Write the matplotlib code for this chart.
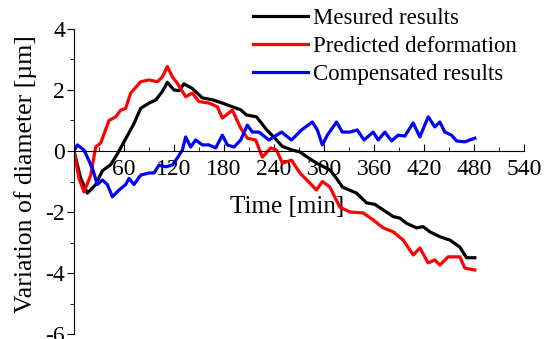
import matplotlib.pyplot as plt
from matplotlib.ticker import MultipleLocator

plt.rcParams['font.family'] = ['Liberation Serif', 'DejaVu Serif']
plt.rcParams['axes.unicode_minus'] = False

# Measured results
t_meas = [0, 8, 16, 26, 34, 44, 52, 60, 66, 72, 80, 90, 98, 106, 112, 120, 126, 132, 142,
          154, 166, 178, 190, 200, 207, 219, 231, 240, 250, 262, 271, 280, 291, 307, 315,
          322, 339, 351, 361, 371, 383, 391, 399, 411, 419, 427, 439, 451, 463, 471, 481]
v_meas = [0, -0.9, -1.38, -1.1, -0.65, -0.45, -0.1, 0.3, 0.6, 0.9, 1.4, 1.57, 1.67, 1.95, 2.25,
          2.0, 1.98, 2.2, 2.05, 1.74, 1.68, 1.57, 1.45, 1.35, 1.18, 1.12, 0.7, 0.45, 0.15, 0.03,
          -0.03, -0.2, -0.4, -0.62, -0.9, -1.18, -1.38, -1.7, -1.75, -1.93, -2.15, -2.2, -2.37,
          -2.52, -2.48, -2.65, -2.81, -2.92, -3.15, -3.5, -3.5]

# Predicted deformation
t_pred = [0, 6, 12, 20, 26, 32, 42, 50, 56, 62, 68, 80, 90, 100, 106, 112, 118, 124, 134, 142,
          150, 162, 172, 178, 190, 200, 208, 218, 226, 236, 243, 250, 261, 271, 283, 291, 298,
          307, 319, 331, 347, 359, 371, 383, 395, 407, 415, 425, 433, 439, 449, 463, 469, 481]
v_pred = [0, -0.9, -1.34, -0.8, 0.13, 0.26, 1.0, 1.12, 1.34, 1.4, 1.9, 2.27, 2.33, 2.27, 2.43,
          2.77, 2.43, 2.22, 1.78, 1.9, 1.62, 1.57, 1.45, 1.08, 1.34, 0.75, 0.42, 0.36, -0.2,
          0.1, 0.03, -0.4, -0.3, -0.72, -1.05, -1.28, -1.0, -1.18, -1.84, -2.0, -2.03, -2.26,
          -2.52, -2.65, -2.92, -3.41, -3.18, -3.67, -3.57, -3.74, -3.47, -3.47, -3.84, -3.9]

# Compensated results
t_comp = [0, 4, 12, 22, 28, 34, 40, 46, 54, 62, 66, 72, 80, 90, 96, 102, 110, 118, 124, 130,
          134, 140, 146, 154, 162, 170, 178, 184, 192, 200, 208, 214, 222, 234, 249, 261, 273,
          286, 292, 298, 304, 315, 322, 331, 340, 348, 359, 365, 373, 381, 389, 397, 407, 415,
          425, 433, 439, 445, 453, 459, 469, 481]
v_comp = [0, 0.2, 0.03, -0.56, -1.1, -0.95, -1.1, -1.5, -1.28, -1.1, -0.9, -1.1, -0.79, -0.72,
          -0.72, -0.46, -0.52, -0.46, -0.23, 0.03, 0.46, 0.13, 0.36, 0.2, 0.2, 0.1, 0.52, 0.2,
          0.13, 0.36, 0.85, 0.62, 0.62, 0.36, 0.62, 0.36, 0.69, 0.95, 0.69, 0.2, 0.52, 0.95,
          0.62, 0.62, 0.69, 0.36, 0.62, 0.36, 0.62, 0.33, 0.52, 0.49, 0.92, 0.46, 1.12, 0.79,
          0.95, 0.62, 0.52, 0.33, 0.3, 0.42]

fig = plt.figure(figsize=(5.45, 3.39), dpi=100)
ax = fig.add_axes([0.1358, 0.0147, 0.8257, 0.8998])

ax.plot(t_meas, v_meas, color='black', lw=2.3, label='Mesured results')
ax.plot(t_pred, v_pred, color='red', lw=2.3, label='Predicted deformation')
ax.plot(t_comp, v_comp, color='blue', lw=2.3, label='Compensated results')

ax.set_xlim(0, 540)
ax.set_ylim(-6, 4)
ax.spines['top'].set_visible(False)
ax.spines['right'].set_visible(False)
ax.spines['bottom'].set_position(('data', 0))

ax.set_xticks(range(60, 541, 60))
ax.xaxis.set_minor_locator(MultipleLocator(30))
ax.yaxis.set_major_locator(MultipleLocator(2))
ax.yaxis.set_minor_locator(MultipleLocator(1))
ax.tick_params(axis='x', which='both', direction='in', labelsize=17, pad=6)
ax.tick_params(axis='x', which='major', length=5)
ax.tick_params(axis='x', which='minor', length=3)
ax.tick_params(axis='y', which='both', direction='out', labelsize=17, pad=1.5)
ax.tick_params(axis='y', which='major', length=5)
ax.tick_params(axis='y', which='minor', length=3)

ax.set_xlabel('Time [min]', fontsize=18)
ax.xaxis.set_label_coords(0.473, 0.452)
ax.set_ylabel('Variation of diameter [µm]', fontsize=18.5)
ax.yaxis.set_label_coords(-0.082, 0.525)

ax.legend(loc='upper right', bbox_to_anchor=(1.0, 1.09), frameon=False, fontsize=16.5,
          handlelength=2.4, handletextpad=0.25, labelspacing=0.3, borderaxespad=0,
          borderpad=0.3)

fig.savefig('out.png', dpi=100)
